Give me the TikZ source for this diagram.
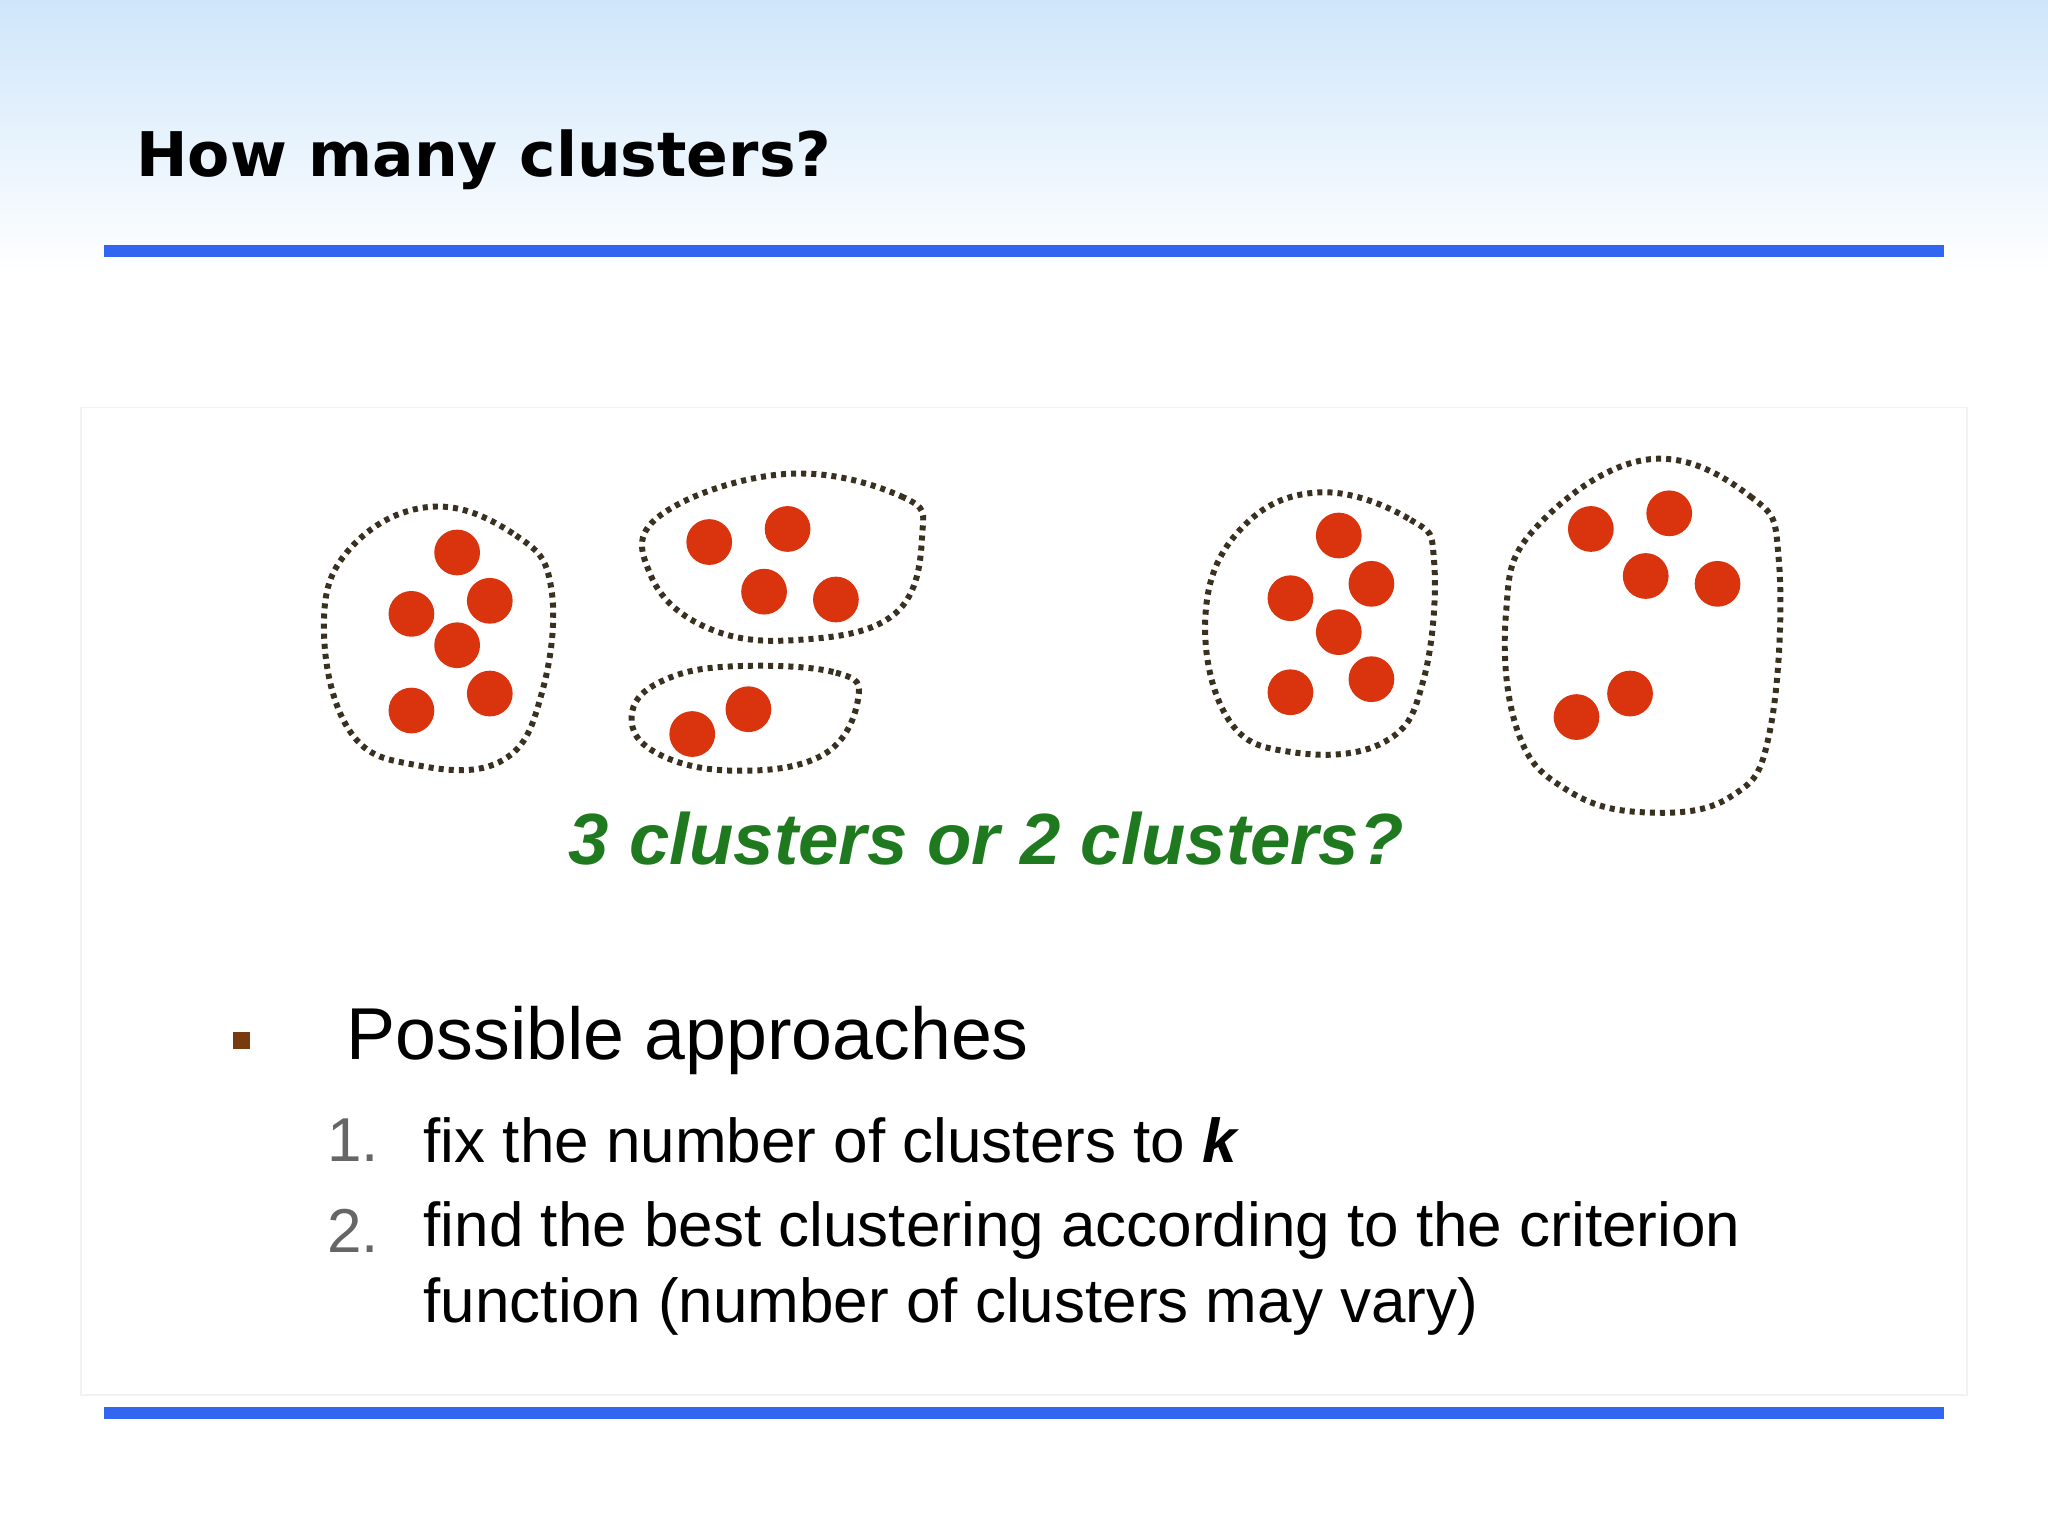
\documentclass[tikz,border=0pt]{standalone}
\usepackage{fontspec}
\setmainfont{Liberation Sans}
\newfontfamily\titlefont{DejaVu Sans}
\begin{document}
\begin{tikzpicture}[x=0.01cm,y=-0.01cm,
  dot/.style={circle,fill=dotred,inner sep=0pt,minimum size=0.35cm},
  hull/.style={draw=hullc,line width=1.3pt,dash pattern=on 1.1pt off 1.1pt},
  rule/.style={draw=ruleblue,line width=2.6pt}]
\definecolor{dotred}{HTML}{D9340E}
\definecolor{hullc}{HTML}{3A3020}
\definecolor{ruleblue}{HTML}{3366F0}
\definecolor{topblue}{HTML}{CFE6FA}
\definecolor{grn}{HTML}{1F7A1F}
\definecolor{brn}{HTML}{7A3A10}
\useasboundingbox (0,0) rectangle (1568,1176);
\fill[white] (0,0) rectangle (1568,1176);
\shade[top color=topblue,bottom color=white] (0,0) rectangle (1568,210);
\draw[black!5] (62,312) rectangle (1506,1068);
\node[anchor=west,font=\titlefont\bfseries\fontsize{13.4}{16}\selectfont] (title) at (92,122) {How many clusters?};
\coordinate (r1a) at (80,192); \coordinate (r1b) at (1488,192);
\draw[rule] (r1a) -- (r1b);
\coordinate (r2a) at (80,1082); \coordinate (r2b) at (1488,1082);
\draw[rule] (r2a) -- (r2b);
% hulls
\draw[hull] plot[smooth cycle,tension=0.7] coordinates {(330,388) (395,410) (422,450) (415,530) (385,582) (320,586) (268,560) (248,480) (268,420)};
\draw[hull] plot[smooth cycle,tension=0.7] coordinates {(600,363) (690,380) (706,410) (685,470) (610,490) (540,480) (498,440) (505,395)};
\draw[hull] plot[smooth cycle,tension=0.7] coordinates {(565,510) (640,515) (657,535) (630,578) (560,590) (500,575) (484,545) (510,520)};
\draw[hull] plot[smooth cycle,tension=0.7] coordinates {(1010,377) (1080,398) (1098,430) (1090,520) (1060,568) (990,576) (940,550) (923,470) (950,405)};
\draw[hull] plot[smooth cycle,tension=0.7] coordinates {(1260,352) (1340,380) (1362,430) (1355,560) (1325,610) (1260,622) (1200,605) (1162,560) (1153,470) (1175,405)};
% dots
\foreach \p [count=\i] in {(350,423),(315,470),(375,460),(350,494),(375,531),(315,544),
  (543,415),(603,405),(585,453),(640,459),(573,543),(530,562),
  (1025,410),(988,458),(1050,447),(1025,484),(988,530),(1050,520),
  (1218,405),(1278,393),(1260,441),(1315,447),(1248,531),(1207,549)}
  \node[dot] (d\i) at \p {};
\node[font=\bfseries\itshape\fontsize{15.8}{19}\selectfont,text=grn] (q) at (755,642) {3 clusters or 2 clusters?};
\node[fill=brn,minimum size=0.13cm,inner sep=0pt] (b) at (185,797) {};
\node[anchor=west,font=\fontsize{16}{19}\selectfont] (pa) at (253,797) {Possible approaches};
\node[anchor=west,font=\fontsize{13.5}{16}\selectfont,text=black!60] (n1) at (238,873) {1.};
\node[anchor=west,font=\fontsize{13.5}{16}\selectfont] (t1) at (312,873) {fix the number of clusters to \textbf{\textit{k}}};
\node[anchor=west,font=\fontsize{13.5}{16}\selectfont,text=black!60] (n2) at (238,942) {2.};
\node[anchor=west,font=\fontsize{13.5}{16}\selectfont] (t2) at (312,942) {find the best clustering according to the criterion};
\node[anchor=west,font=\fontsize{13.5}{16}\selectfont] (t3) at (312,1000) {function (number of clusters may vary)};
\end{tikzpicture}
\end{document}
